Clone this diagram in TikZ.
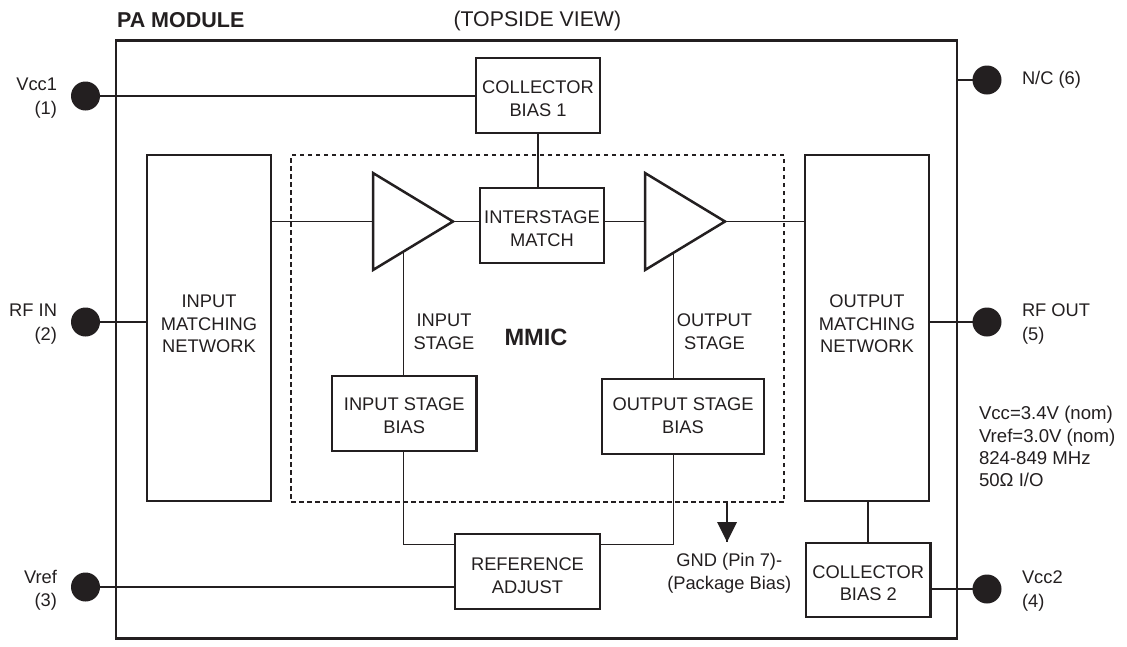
\documentclass[tikz,border=0pt]{standalone}
\usepackage{fontspec}
\setmainfont{Liberation Sans}
\usetikzlibrary{shapes.geometric,calc,arrows.meta}
\definecolor{ink}{HTML}{231F20}
\tikzset{
  every node/.style={text=ink,font=\fontsize{18.3}{22.6}\selectfont,inner sep=0pt,outer sep=0pt},
  blk/.style={draw=ink,line width=2.6pt,fill=white,align=center,anchor=north west},
  wire/.style={draw=ink,line width=1.05pt},
  pin/.style={circle,fill=ink,draw=none,minimum size=29pt},
  amp/.style={isosceles triangle,isosceles triangle stretches,shape border rotate=0,draw=ink,line width=2.5pt,fill=white,minimum width=97pt,minimum height=80pt,anchor=lower side},
  pinlbl/.style={font=\fontsize{18.3}{23.6}\selectfont},
  lbl/.style={align=center},
}
\newcommand{\blkat}[6]{\node[blk,minimum width=#4pt-#2pt,minimum height=#5pt-#3pt] (#1) at (#2,#3) {#6};}
% zero-width struts that move a block's text down or up inside its box
\newcommand{\txtdn}[1]{\rule{0pt}{\dimexpr 13pt+#1pt+#1pt\relax}}
\newcommand{\txtup}[1]{\rule[\dimexpr -#1pt-#1pt\relax]{0pt}{\dimexpr #1pt+#1pt\relax}}
\begin{document}
\begin{tikzpicture}[x=1pt,y=-1pt]
\useasboundingbox (0,0) rectangle (1127,646);
\fill[white] (0,0) rectangle (1127,646);
\node[draw=ink,line width=2.6pt,anchor=north west,minimum width=841pt,minimum height=598pt] (module) at (116,40.5) {};
\node[draw=ink,line width=1.05pt,dash pattern=on 4.5pt off 3.5pt,anchor=north west,minimum width=493pt,minimum height=347pt] (mmic) at (291,155) {};
\blkat{cb1}{476}{58}{600}{133}{\txtdn{3}COLLECTOR\\BIAS 1}
\blkat{inm}{147}{155}{271}{501}{INPUT\\MATCHING\\NETWORK\txtup{4}}
\blkat{ism}{480}{188}{604}{263}{\txtdn{3}INTERSTAGE\\MATCH}
\blkat{outm}{805}{155}{929}{501}{OUTPUT\\MATCHING\\NETWORK\txtup{4}}
\blkat{ibias}{332}{376}{476.5}{451}{\txtdn{2}INPUT STAGE\\BIAS}
\blkat{obias}{602}{379}{764}{454}{OUTPUT STAGE\\BIAS\txtup{1}}
\blkat{refa}{455}{534}{600}{609}{\txtdn{4}REFERENCE\\ADJUST}
\blkat{cb2}{806}{543}{930.5}{617}{\txtdn{3}COLLECTOR\\BIAS 2}
\node[amp] (a1) at (373,221.5) {};
\node[amp] (a2) at (645,221.5) {};
\coordinate (a1b) at ($(a1.right corner)!0.379!(a1.apex)$);
\coordinate (a2b) at ($(a2.right corner)!0.354!(a2.apex)$);
\node[pin] (p1) at (85.5,96) {};
\node[pin] (p2) at (85.5,322) {};
\node[pin] (p3) at (85.5,587) {};
\node[pin] (p6) at (987,80) {};
\node[pin] (p5) at (987,322) {};
\node[pin] (p4) at (987,589) {};
\node[pinlbl,align=right,anchor=north east] (t1) at (57,78) {Vcc1\\(1)};
\node[pinlbl,align=right,anchor=north east] (t2) at (57,304) {RF IN\\(2)};
\node[pinlbl,align=right,anchor=north east] (t3) at (57,570) {Vref\\(3)};
\node[anchor=west] (t6) at (1022,80) {N/C (6)};
\node[pinlbl,align=left,anchor=north west] (t5) at (1022,304) {RF OUT\\(5)};
\node[pinlbl,align=left,anchor=north west] (t4) at (1022,571) {Vcc2\\(4)};
\node[anchor=west,font=\fontsize{21.5}{25}\selectfont\bfseries] (title) at (117,20.5) {PA MODULE};
\node[anchor=west,font=\fontsize{21.3}{25}\selectfont] (view) at (453.5,20.5) {(TOPSIDE VIEW)};
\node[font=\fontsize{23.6}{28}\selectfont\bfseries] (mm) at (536,337.5) {MMIC};
\node[lbl] (ist) at (444,331.5) {INPUT\\STAGE};
\node[lbl] (ost) at (714.5,331.5) {OUTPUT\\STAGE};
\node[lbl] (gnd) at (729.3,573) {GND (Pin 7)-\\(Package Bias)};
\node[align=left,anchor=north west,font=\fontsize{18.6}{22.2}\selectfont] (spec) at (979,406.5) {Vcc=3.4V (nom)\\Vref=3.0V (nom)\\824-849 MHz\\50Ω I/O};
\coordinate (gndtop) at (727,0 |- mmic.south);
\node[isosceles triangle,isosceles triangle stretches,shape border rotate=-90,fill=ink,minimum width=20pt,minimum height=20pt,anchor=apex] (gar) at (727,542) {};
\draw[wire] (p1.center) -- (p1.center -| cb1.west);
\draw[wire] (p2.center) -- (inm.west |- p2.center);
\draw[wire] (p3.center) -- (refa.west |- p3.center);
\draw[wire] (p6.center) -- (module.east |- p6.center);
\draw[wire] (p5.center) -- (outm.east |- p5.center);
\draw[wire] (p4.center) -- (cb2.east |- p4.center);
\draw[wire] (538,0 |- cb1.south) -- (538,0 |- ism.north);
\draw[wire] (inm.east |- a1.lower side) -- (a1.lower side);
\draw[wire] (a1.apex) -- (ism.west |- a1.apex);
\draw[wire] (ism.east |- a2.lower side) -- (a2.lower side);
\draw[wire] (a2.apex) -- (outm.west |- a2.apex);
\draw[wire] (a1b) -- (a1b |- ibias.north);
\draw[wire] (a2b) -- (a2b |- obias.north);
\draw[wire] (a1b |- ibias.south) |- (refa.west |- 0,544.5);
\draw[wire] (a2b |- obias.south) |- (refa.east |- 0,544.5);
\draw[wire] (868,0 |- outm.south) -- (868,0 |- cb2.north);
\draw[wire] (gndtop) -- (gndtop |- gar.apex);
\end{tikzpicture}
\end{document}
